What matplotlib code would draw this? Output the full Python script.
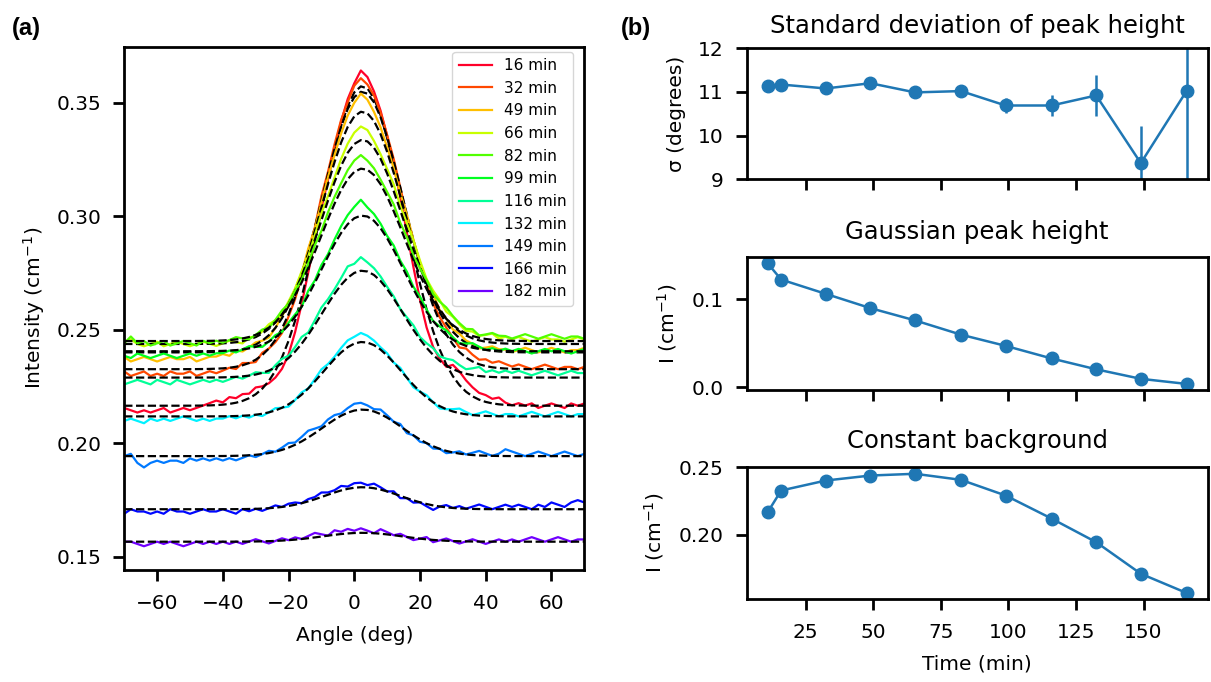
import numpy as np
import matplotlib
matplotlib.use("Agg")
import matplotlib.pyplot as plt

plt.rcParams.update({
    "font.size": 14.5,
    "axes.linewidth": 2.0,
    "xtick.major.size": 8,
    "ytick.major.size": 8,
    "xtick.major.width": 2.0,
    "ytick.major.width": 2.0,
    "xtick.major.pad": 9.5,
    "ytick.major.pad": 8.5,
    "axes.labelpad": 9,
})

# fit results vs time
times = [11, 16, 32.5, 49, 65.5, 82.5, 99, 116, 132.5, 149, 166]
sigma = [11.14, 11.17, 11.08, 11.2, 10.99, 11.02, 10.69, 10.69, 10.92, 9.37, 11.03]
sigma_err = [0.05, 0.05, 0.05, 0.06, 0.08, 0.12, 0.18, 0.24, 0.47, 0.86, 2.5]
height = [0.1408, 0.1223, 0.1061, 0.0899, 0.0760, 0.0598, 0.0471, 0.0328, 0.0205, 0.0097, 0.0039]
background = [0.2166, 0.2327, 0.2401, 0.2438, 0.2451, 0.2406, 0.2290, 0.2119, 0.1944, 0.1710, 0.1567]

# peak width and centre of the fitted profiles on the angle axis (deg)
profile_sigma = [12.6, 12.5, 12.4, 12.5, 12.6, 12.4, 12.2, 11.8, 12.2, 11.5, 12.0]
centre = 2.5

labels = ["16 min", "32 min", "49 min", "66 min", "82 min", "99 min",
          "116 min", "132 min", "149 min", "166 min", "182 min"]

# measured azimuthal profiles, stored as deviation from the fit (1e-3 cm^-1)
angles = np.arange(-70, 72, 2)
residuals = [
    [-1, -2, -3, -2, -3, -2, -1, -3, -2, -1, -2, -1, 0,
     1, 2, 1, 3, 2, 3, 2, 3, 1,
     -1, -3, -5, -6, -5,
     -3, -1, 0, 1, 0,
     1, 2, 3, 4, 7, 5, 3, 2, 1,
     0, -1, -3, -5, -7,
     -8, -7, -4, -1,
     5, 6, 5,
     4, 3, 3, 2, 3, 1,
     0, 1, 0, 1, -1, 0, 1, 0, -1, 1, 0, 1],
    [-1, -3, -2, -1, -3, -2, -3, -1, -2, -2, -1, -3, -2, -1, -2,
     -1, 0, -1, 1, 0, -1, 1, 0, -1, -2, -1,
     -1, 0, 1, 0, 2, 1,
     2, 3, 3, 5, 6, 4, 3, 2, 1,
     1, 0, -1, 0, 1, 2, 1, 2, 3,
     3, 2, 4, 3, 2, 3, 2, 3, 2,
     1, 2, 1, 0, 1, 2, 1, 0, 1, 1, 0, 1],
    [-2, -4, -3, -2, -3, -4, -3, -2, -3, -3, -2, -4, -3, -2, -2,
     -1, -2, 0, -1, 0, 1, 0, -1, 0, 1, 0,
     1, 0, 2, 1, 2, 3,
     3, 4, 5, 6, 8, 6, 4, 3, 2,
     2, 1, 2, 1, 0, 1, 2, 1, 2,
     1, 2, 1, 1, 0, 1, 2, 1, 1,
     0, 1, 2, 1, 0, 1, 2, 1, 0, 1, 1, 2],
    [1, 2, 0, -1, 0, 1, -1, 0, 1, 0, -1, 0, 1, 0, -1,
     0, 1, 0, -1, 1, 0, 1, 2, 1, 0, 1,
     1, 2, 1, 2, 3, 2,
     2, 3, 4, 5, 6, 5, 3, 2, 2,
     3, 2, 3, 4, 3, 2, 3, 4, 3,
     4, 3, 2, 3, 2, 3, 4, 2, 3,
     2, 3, 2, 1, 2, 3, 2, 2, 1, 2, 3, 2],
    [-1, 2, -1, 0, -2, -1, 0, -2, -1, 0, -1, -2, 0, -1, 0,
     -1, 0, 1, 0, -1, 0, 1, 0, 1, 2, 1,
     2, 1, 2, 3, 2, 3,
     3, 3, 4, 5, 6, 4, 3, 2, 2,
     3, 2, 3, 2, 3, 4, 3, 4, 5,
     4, 3, 2, 3, 1, 2, 3, 2, 2,
     1, 2, 3, 2, 1, 2, 3, 2, 1, 2, 2, 1],
    [-2, -3, -1, -2, -3, -2, -1, -2, -3, -2, -1, -2, -1, -2, -1,
     -1, 0, -1, 0, 1, 0, -1, 0, 1, 0, 1,
     1, 0, 2, 1, 2, 1,
     2, 3, 4, 5, 7, 4, 3, 2, 1,
     2, 1, 2, 1, 2, 1, 0, 1, 2,
     1, 0, 1, 2, 1, 0, 1, 0, 1,
     0, 1, 0, -1, 0, 1, 0, 1, 0, -1, 0, 1],
    [-3, -2, -1, -2, -3, -1, -2, -3, -1, -2, -3, -2, -1, -2, -1,
     -2, -1, 0, -1, 0, 1, 0, -1, 1, 2, 1,
     2, 3, 1, 2, 3, 2,
     2, 3, 5, 4, 6, 4, 3, 2, 1,
     1, 0, 1, 2, 1, 2, 3, 2, 3,
     4, 3, 2, 3, 4, 2, 3, 2, 3,
     2, 3, 2, 1, 2, 3, 2, 1, 2, 3, 2, 2],
    [-2, -1, -2, -3, -1, -2, -1, -2, -1, 0, -1, -2, -1, -2, -1,
     -1, 0, -1, 0, -1, 0, -1, 0, 1, 0, -1,
     0, 1, 0, 1, 2, 1,
     1, 2, 3, 3, 4, 3, 2, 1, 1,
     0, 1, 0, -1, 0, 1, 0, -1, 0,
     1, 2, 1, 0, 1, 2, 1, 0, 1,
     1, 0, 1, 2, 1, 0, 1, 2, 1, 0, 1, 1],
    [0, 1, -3, -5, -3, -2, -3, -2, -2, -3, -1, -2, -1, -2, -1,
     -2, -1, -2, -1, 0, -1, 0, 1, 0, 1, 2,
     1, 2, 3, 2, 1, 2,
     2, 1, 2, 3, 3, 2, 1, 2, 1,
     0, 1, -1, 0, -1, 0, -1, 0, -1,
     0, 1, 0, 1, 2, 1, 0, 1, 3,
     2, 1, 0, 1, 2, 1, 0, 1, 2, 1, 0, 1],
    [-2, 0, -1, -1, -2, -1, -2, 0, -1, -1, -2, -1, 0, -1, -1,
     0, -1, -2, 0, -1, 0, -1, 0, 1, 0, 1,
     1, 0, 1, 1, 2, 1,
     1, 2, 1, 2, 2, 1, 2, 1, 0,
     1, -1, 0, -1, 0, -1, -2, 0, 1,
     0, 1, 0, 1, 2, 1, 0, 1, 2,
     1, 2, 1, 0, 2, 1, 3, 2, 1, 3, 4, 3],
    [0, 0, -1, -2, -1, 0, -1, 0, -1, -2, -1, 0, -1, 0, -1,
     0, -1, 0, -1, 0, 1, 0, -1, 0, 1, 0,
     1, 0, 1, 2, 1, 0,
     2, 1, 2, 1, 2, 1, 0, 2, 1,
     0, 1, 0, -1, 0, 1, -1, 0, 1,
     0, -1, 0, 1, 0, -1, 0, 1, 0,
     1, 0, 1, 2, 1, 0, 1, 2, 1, 0, 1, 1],
]


def gaussian(x, bg, amp, sig):
    return bg + amp * np.exp(-(x - centre) ** 2 / (2 * sig ** 2))


colors = plt.cm.gist_rainbow(np.linspace(0, 0.85, len(labels)))

fig = plt.figure(figsize=(12.11, 6.82), dpi=100)
ax = fig.add_axes([0.1026, 0.1642, 0.3799, 0.7673])

for k in range(len(labels)):
    fit = gaussian(angles, background[k], height[k], profile_sigma[k])
    data = fit + np.array(residuals[k]) * 1e-3
    ax.plot(angles, data, color=colors[k], lw=1.6, label=labels[k])
    ax.plot(angles, fit, color="black", ls="--", lw=1.6)

ax.set_xlim(-70, 70)
ax.set_xticks([-60, -40, -20, 0, 20, 40, 60])
ax.set_yticks([0.15, 0.20, 0.25, 0.30, 0.35])
ax.set_xlabel("Angle (deg)")
ax.set_ylabel("Intensity (cm$^{-1}$)", labelpad=7)
ax.legend(loc="upper right", bbox_to_anchor=(0.976, 0.99), borderaxespad=0,
          fontsize=11, handlelength=2.2)

# right column: fit parameters
x0, w = 0.6166, 0.3807
ax1 = fig.add_axes([x0, 0.7371, w, 0.1921])
ax2 = fig.add_axes([x0, 0.4282, w, 0.1946], sharex=ax1)
ax3 = fig.add_axes([x0, 0.1217, w, 0.1933], sharex=ax1)

style = dict(fmt="o-", color="#1f77b4", ms=9, lw=1.8, elinewidth=1.8)
ax1.errorbar(times, sigma, yerr=sigma_err, **style)
ax1.set_ylim(9, 12)
ax1.set_yticks([9, 10, 11, 12])
ax1.set_ylabel("σ (degrees)")
ax1.set_title("Standard deviation of peak height", fontsize=17.5, pad=11)

ax2.errorbar(times, height, **style)
ax2.set_yticks([0.0, 0.1])
ax2.set_ylabel("I (cm$^{-1}$)")
ax2.set_title("Gaussian peak height", fontsize=17.5, pad=13)

ax3.errorbar(times, background, **style)
ax3.set_yticks([0.20, 0.25])
ax3.set_ylabel("I (cm$^{-1}$)")
ax3.set_title("Constant background", fontsize=17.5, pad=14)
ax3.set_xlabel("Time (min)")
ax3.set_xticks([25, 50, 75, 100, 125, 150])

for a in (ax1, ax2):
    a.tick_params(labelbottom=False)

fig.text(0.010, 0.948, "(a)", fontsize=17, fontweight="bold", family="Liberation Sans")
fig.text(0.513, 0.948, "(b)", fontsize=17, fontweight="bold", family="Liberation Sans")

fig.savefig("out.png", dpi=100)
